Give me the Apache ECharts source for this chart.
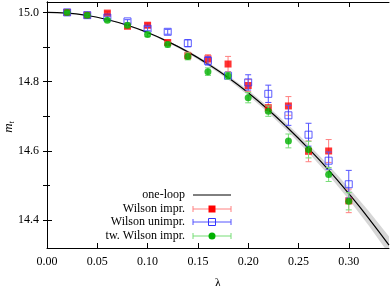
<!DOCTYPE html>
<html>
<head>
<meta charset="utf-8">
<script src="https://cdn.jsdelivr.net/npm/echarts@6/dist/echarts.min.js"></script>
<style>html,body{margin:0;padding:0;background:#fff}#c{width:390px;height:286px}</style>
</head>
<body>
<div id="c"></div>
<script>
// ---- data ----
var lambdas = [0.02,0.04,0.06,0.08,0.10,0.12,0.14,0.16,0.18,0.20,0.22,0.24,0.26,0.28,0.30];
var wilsonImpr     = [15.000,14.992,14.998,14.960,14.963,14.913,14.875,14.866,14.851,14.789,14.725,14.730,14.599,14.600,14.456];
var wilsonImprErr  = [0.002,0.003,0.004,0.005,0.006,0.007,0.010,0.012,0.022,0.017,0.015,0.027,0.030,0.033,0.034];
var wilsonUnimpr   = [15.000,14.992,14.985,14.974,14.953,14.944,14.911,14.860,14.817,14.798,14.765,14.703,14.647,14.572,14.504];
var wilsonUnimprErr= [0.002,0.003,0.004,0.005,0.006,0.007,0.010,0.012,0.010,0.022,0.025,0.029,0.033,0.025,0.040];
var twWilson       = [15.000,14.992,14.977,14.963,14.936,14.907,14.873,14.829,14.817,14.754,14.715,14.629,14.604,14.532,14.455];
var twWilsonErr    = [0.002,0.003,0.004,0.005,0.006,0.007,0.010,0.011,0.010,0.015,0.015,0.020,0.024,0.020,0.025];

var curveLambda = [0,0.02,0.04,0.06,0.08,0.10,0.12,0.14,0.16,0.18,0.20,0.22,0.24,0.26,0.28,0.30,0.32,0.34];
var oneLoop     = [15.000,14.998,14.991,14.979,14.963,14.942,14.916,14.886,14.851,14.812,14.768,14.719,14.665,14.607,14.545,14.477,14.405,14.328];
var bandHalf    = [0,0,0.001,0.001,0.002,0.002,0.003,0.004,0.005,0.006,0.008,0.009,0.010,0.012,0.014,0.017,0.021,0.025];

var xTicks = [0,0.05,0.10,0.15,0.20,0.25,0.30];
var yMajor = [14.4,14.6,14.8,15.0];
var yMinor = [14.5,14.7,14.9];
var yAll   = [14.4,14.5,14.6,14.7,14.8,14.9,15.0];

var seriesNames = ['one-loop','Wilson impr.','Wilson unimpr.','tw. Wilson impr.'];

// ---- styles ----
var FONT = 'Liberation Serif';
var RED = '#ff0000', RED_BAR = '#ff8080';
var BLUE = '#3333ff', BLUE_BAR = '#5555ff';
var GREEN = '#00b000', GREEN_BAR = '#77dd77';

function zip3(x, y, e){ return x.map(function(v,i){ return [v, y[i], e[i]]; }); }

function errRender(color){
  return function(params, api){
    var x = api.value(0), y = api.value(1), e = api.value(2);
    var top = api.coord([x, y + e]), bot = api.coord([x, y - e]);
    var cw = 3;
    return {type:'group', children:[
      {type:'line', shape:{x1:top[0],y1:top[1],x2:bot[0],y2:bot[1]}, style:{stroke:color,lineWidth:1}},
      {type:'line', shape:{x1:top[0]-cw,y1:top[1],x2:top[0]+cw,y2:top[1]}, style:{stroke:color,lineWidth:1}},
      {type:'line', shape:{x1:bot[0]-cw,y1:bot[1],x2:bot[0]+cw,y2:bot[1]}, style:{stroke:color,lineWidth:1}}
    ]};
  };
}

function bandRender(params, api){
  if (params.dataIndex !== 0) return null;
  var up = [], lo = [];
  for (var i = 0; i < curveLambda.length; i++){
    up.push(api.coord([curveLambda[i], oneLoop[i] + bandHalf[i]]));
    lo.push(api.coord([curveLambda[i], oneLoop[i] - bandHalf[i]]));
  }
  var pts = up.concat(lo.reverse());
  return {type:'polygon', shape:{points:pts, smooth:0}, style:{fill:'#d6d6d6', stroke:'none'}};
}

var chart = echarts.init(document.getElementById('c'), null, {renderer:'canvas'});

var axisText = {color:'#000', fontFamily:FONT, fontSize:12};

// legend graphics (gnuplot style)
var legX = 185, sx1 = 193, sx2 = 231, smid = 212;
var legY = [195, 209, 222, 236];
var legCols = [['#000','#000'],[RED_BAR,RED],[BLUE_BAR,BLUE],[GREEN_BAR,GREEN]];
var graphics = [];
seriesNames.forEach(function(n,i){
  var y = legY[i];
  graphics.push({type:'text', x: legX, y: y, style:{text:n, fill:'#000', font:'12px "Liberation Serif"', align:'right', verticalAlign:'middle'}});
  graphics.push({type:'line', shape:{x1:sx1,y1:y,x2:sx2,y2:y}, style:{stroke:legCols[i][0], lineWidth:1}});
  if(i>0){
    graphics.push({type:'line', shape:{x1:sx1,y1:y-3,x2:sx1,y2:y+3}, style:{stroke:legCols[i][0], lineWidth:1}});
    graphics.push({type:'line', shape:{x1:sx2,y1:y-3,x2:sx2,y2:y+3}, style:{stroke:legCols[i][0], lineWidth:1}});
  }
});
graphics.push({type:'rect', shape:{x:smid-3.5,y:legY[1]-3.5,width:7,height:7}, style:{fill:RED}});
graphics.push({type:'rect', shape:{x:smid-3.5,y:legY[2]-3.5,width:7,height:7}, style:{fill:'none', stroke:BLUE, lineWidth:1}});
graphics.push({type:'circle', shape:{cx:smid,cy:legY[3],r:3.5}, style:{fill:GREEN}});
// y axis title (rotated, m with subscript t)
graphics.push({type:'text', x:9, y:127, rotation:Math.PI/2,
  style:{text:'{m|m}{t|t}', align:'center', verticalAlign:'middle',
    rich:{m:{fontFamily:FONT, fontStyle:'italic', fontSize:13, fill:'#000'},
          t:{fontFamily:FONT, fontStyle:'italic', fontSize:8, fill:'#000', padding:[6,0,0,0]}}}});

chart.setOption({
  animation:false,
  backgroundColor:'#fff',
  grid:{left:47, right:1, top:2, bottom:38, containLabel:false, outerBoundsMode:'none'},
  xAxis:[
    {type:'value', position:'bottom', min:0, max:0.34,
     axisLine:{lineStyle:{color:'#000', width:1}},
     axisTick:{inside:true, length:5, customValues:xTicks, lineStyle:{color:'#000'}},
     axisLabel:Object.assign({customValues:xTicks, margin:8, formatter:function(v){return v.toFixed(2);}}, axisText),
     splitLine:{show:false},
     name:'λ', nameLocation:'middle', nameGap:29, nameTextStyle:{color:'#000', fontFamily:FONT, fontSize:13}},
    {type:'value', position:'top', min:0, max:0.34,
     axisLine:{lineStyle:{color:'#000', width:1}},
     axisTick:{inside:true, length:5, customValues:xTicks, lineStyle:{color:'#000'}},
     axisLabel:{show:false}, splitLine:{show:false}}
  ],
  yAxis:[
    {type:'value', position:'left', min:14.32, max:15.03,
     axisLine:{show:true, lineStyle:{color:'#000', width:1}},
     axisTick:{inside:true, length:5, customValues:yMajor, lineStyle:{color:'#000'}},
     axisLabel:Object.assign({customValues:yMajor, margin:8, formatter:function(v){return v.toFixed(1);}}, axisText),
     splitLine:{show:false}},
    {type:'value', position:'right', min:14.32, max:15.03,
     axisLine:{show:true, lineStyle:{color:'#000', width:1}},
     axisTick:{inside:true, length:4, customValues:yAll, lineStyle:{color:'#000'}},
     axisLabel:{show:false}, splitLine:{show:false}},
    {type:'value', position:'left', min:14.32, max:15.03,
     axisLine:{show:false},
     axisTick:{inside:true, length:3, customValues:yMinor, lineStyle:{color:'#000'}},
     axisLabel:{show:false}, splitLine:{show:false}}
  ],
  graphic:graphics,
  series:[
    {name:'band', type:'custom', data:[[0, 15]], encode:{x:0,y:1}, renderItem:bandRender, clip:true, silent:true, z:1},
    {name:seriesNames[0], type:'line', data:curveLambda.map(function(v,i){return [v, oneLoop[i]];}), smooth:true, symbol:'none', lineStyle:{color:'#000', width:1.2}, z:2},
    {type:'custom', data:zip3(lambdas, wilsonImpr, wilsonImprErr), encode:{x:0,y:1}, renderItem:errRender(RED_BAR), z:3},
    {name:seriesNames[1], type:'scatter', data:lambdas.map(function(v,i){return [v, wilsonImpr[i]];}), symbol:'rect', symbolSize:7, itemStyle:{color:RED}, z:4},
    {type:'custom', data:zip3(lambdas, wilsonUnimpr, wilsonUnimprErr), encode:{x:0,y:1}, renderItem:errRender(BLUE_BAR), z:5},
    {name:seriesNames[2], type:'scatter', data:lambdas.map(function(v,i){return [v, wilsonUnimpr[i]];}), symbol:'rect', symbolSize:7, itemStyle:{color:'rgba(0,0,0,0)', borderColor:BLUE, borderWidth:1}, z:6},
    {type:'custom', data:zip3(lambdas, twWilson, twWilsonErr), encode:{x:0,y:1}, renderItem:errRender(GREEN_BAR), z:7},
    {name:seriesNames[3], type:'scatter', data:lambdas.map(function(v,i){return [v, twWilson[i]];}), symbol:'circle', symbolSize:7, itemStyle:{color:GREEN}, z:8}
  ]
});
</script>
</body>
</html>
